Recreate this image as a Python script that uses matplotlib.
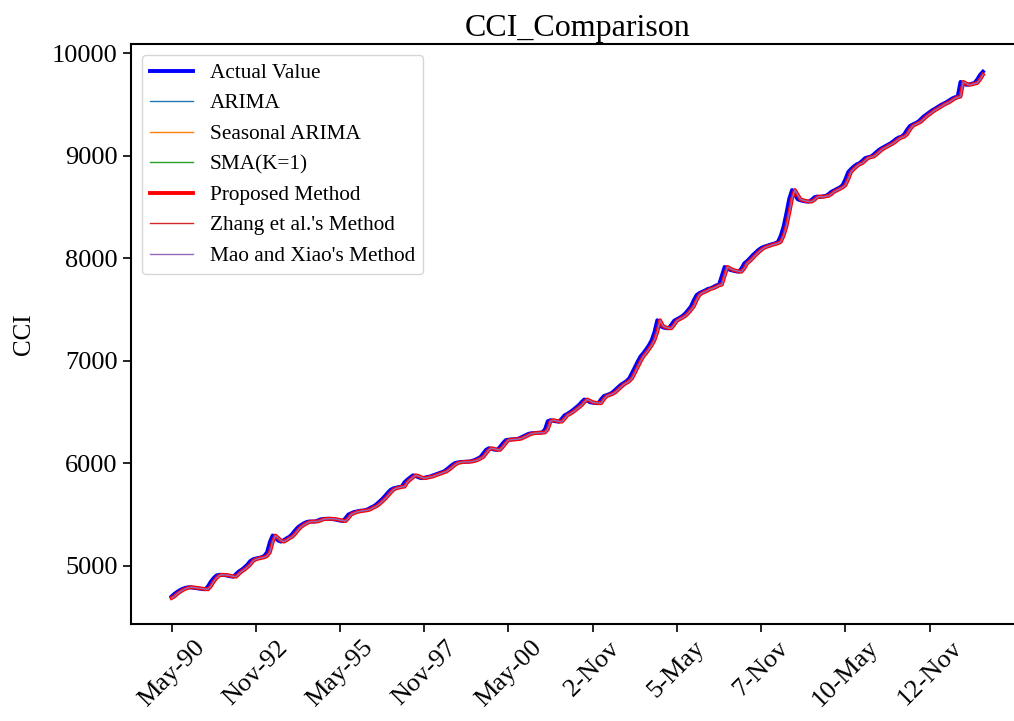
import numpy as np
import matplotlib
matplotlib.use("Agg")
import matplotlib.pyplot as plt

plt.rcParams["font.family"] = ["Liberation Serif", "DejaVu Serif"]

# monthly CCI values, May-1990 onwards
actual = [
    4700, 4725, 4745, 4762, 4775, 4785, 4790, 4788, 4784, 4780,
    4776, 4772, 4770, 4800, 4845, 4880, 4905, 4912, 4910, 4908,
    4902, 4896, 4893, 4920, 4945, 4962, 4985, 5010, 5045, 5062,
    5070, 5076, 5082, 5095, 5130, 5230, 5295, 5270, 5245, 5235,
    5250, 5268, 5283, 5310, 5345, 5375, 5395, 5412, 5425, 5432,
    5430, 5432, 5440, 5452, 5456, 5458, 5458, 5456, 5452, 5446,
    5440, 5436, 5465, 5500, 5512, 5524, 5530, 5535, 5538, 5542,
    5552, 5568, 5580, 5600, 5625, 5650, 5680, 5712, 5740, 5755,
    5762, 5768, 5772, 5815, 5840, 5862, 5882, 5875, 5862, 5854,
    5858, 5865, 5870, 5880, 5890, 5900, 5910, 5920, 5940, 5962,
    5985, 6002, 6008, 6012, 6014, 6015, 6016, 6022, 6032, 6045,
    6060, 6095, 6130, 6146, 6140, 6132, 6130, 6160, 6195, 6225,
    6230, 6232, 6234, 6236, 6245, 6258, 6270, 6285, 6292, 6294,
    6296, 6298, 6300, 6330, 6410, 6420, 6414, 6408, 6405, 6435,
    6468, 6482, 6500, 6520, 6542, 6565, 6595, 6622, 6610, 6595,
    6590, 6587, 6585, 6625, 6655, 6665, 6675, 6690, 6715, 6740,
    6765, 6782, 6800, 6828, 6880, 6935, 6990, 7040, 7073, 7110,
    7150, 7200, 7280, 7395, 7340, 7325, 7318, 7316, 7350, 7390,
    7405, 7420, 7437, 7462, 7495, 7530, 7590, 7640, 7660, 7672,
    7685, 7700, 7707, 7720, 7735, 7742, 7830, 7915, 7900, 7885,
    7878, 7872, 7868, 7900, 7950, 7972, 8000, 8030, 8055, 8080,
    8100, 8112, 8120, 8130, 8138, 8146, 8160, 8220, 8310, 8440,
    8580, 8665, 8620, 8575, 8565, 8558, 8553, 8552, 8570, 8595,
    8602, 8598, 8604, 8608, 8625, 8648, 8662, 8675, 8690, 8712,
    8770, 8840, 8870, 8895, 8915, 8927, 8950, 8976, 8985, 8991,
    9010, 9035, 9058, 9075, 9090, 9105, 9120, 9140, 9162, 9178,
    9186, 9210, 9255, 9290, 9305, 9318, 9333, 9360, 9385, 9405,
    9425, 9445, 9460, 9478, 9495, 9508, 9522, 9540, 9558, 9570,
    9577, 9720, 9705, 9692, 9695, 9702, 9710, 9745, 9790, 9820,
]
tick_pos = [0, 30, 60, 90, 120, 150, 180, 210, 240, 270]
tick_labels = ["May-90", "Nov-92", "May-95", "Nov-97", "May-00",
               "2-Nov", "5-May", "7-Nov", "10-May", "12-Nov"]

actual = np.array(actual, dtype=float)
x = np.arange(len(actual))
# one-step-ahead forecasts follow the previous month's value (SMA with K=1)
sma = np.r_[actual[0] - 15, actual[:-1]]
arima = sma.copy()
sarima = sma.copy()
proposed = sma.copy()
zhang = sma.copy()
mao = sma.copy()

fig = plt.figure(figsize=(10.14, 7.21), dpi=100)
ax = fig.add_axes([0.1292, 0.1352, 0.8802, 0.8038])

ax.plot(x, actual, color="blue", lw=2.8, label="Actual Value")
ax.plot(x, arima, color="tab:blue", lw=1, label="ARIMA")
ax.plot(x, sarima, color="tab:orange", lw=1, label="Seasonal ARIMA")
ax.plot(x, sma, color="tab:green", lw=1, label="SMA(K=1)")
ax.plot(x, proposed, color="red", lw=2.8, label="Proposed Method")
ax.plot(x, zhang, color="tab:red", lw=1, label="Zhang et al.'s Method")
ax.plot(x, mao, color="tab:purple", lw=1, label="Mao and Xiao's Method")

ax.set_xlim(-14.45, 303.45)
ax.set_ylim(4436, 10090)
ax.set_xticks(tick_pos)
ax.set_xticklabels(tick_labels, rotation=45, ha="center")
ax.tick_params(labelsize=19, width=1.2, length=6)
for s in ax.spines.values():
    s.set_linewidth(1.5)

ax.set_ylabel("CCI", fontsize=18, labelpad=12)
ax.set_title("CCI_Comparison", fontsize=23)
ax.legend(loc="upper left", fontsize=15.3)

fig.savefig("out.png", dpi=100)
